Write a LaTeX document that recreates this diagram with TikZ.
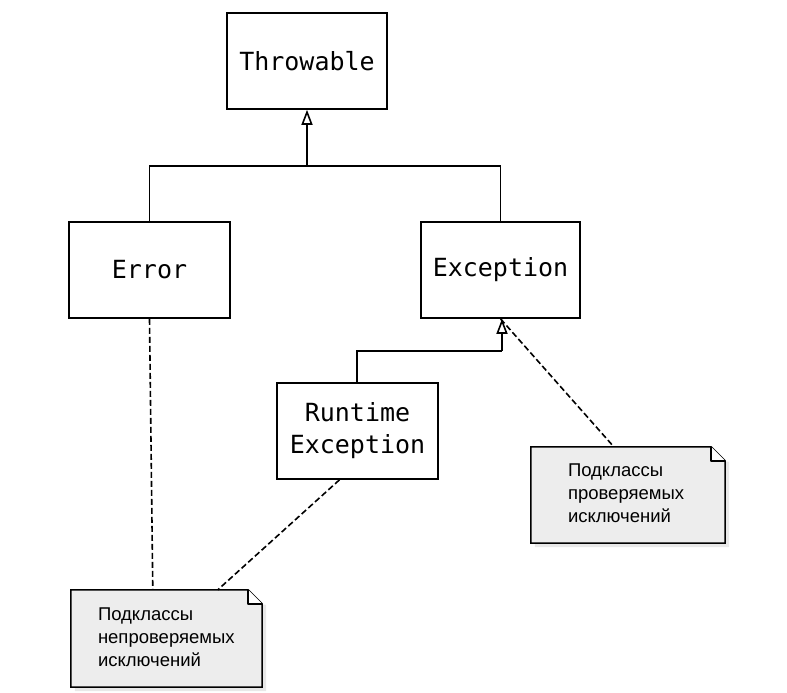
\documentclass[tikz,border=0pt]{standalone}
\usepackage{fontspec}
\setmainfont{Liberation Sans}
\newfontfamily\monof{DejaVu Sans Mono}
\usetikzlibrary{arrows.meta,calc}
\begin{document}
\begin{tikzpicture}[x=1pt,y=-1pt,
  cls/.style={draw=black,line width=1.6pt,minimum width=160pt,minimum height=96pt,inner sep=0pt,font=\monof\fontsize{25}{32}\selectfont,align=center},
  notebox/.style={minimum height=96pt,inner sep=0pt},
  notetext/.style={anchor=north west,inner sep=0pt,align=left,font=\fontsize{18.5}{23}\selectfont},
  genlink/.style={draw=black,line width=1.6pt,-{Triangle[open,length=15pt,width=11pt]}},
  solidlink/.style={draw=black,line width=1.6pt},
  dashlink/.style={draw=black,line width=1.6pt,dash pattern=on 6pt off 3pt},
  noteline/.style={draw=black,line width=1.5pt,fill=black!7}
]
\useasboundingbox (0,0) rectangle (787,693);

\node[cls] (thr) at (307,61) {Throwable};
\node[cls,minimum width=161pt] (err) at (149.5,270) {Error};
\node[cls,minimum width=159pt] (exc) at (500.5,270) {Exception};
\node[cls,minimum width=161pt] (rte) at (357.5,431) {Runtime\\Exception};

\node[notebox,minimum width=194pt] (nr) at (628,495) {};
\node[notebox,minimum width=191pt,minimum height=97pt] (nl) at (166.5,638.5) {};

% notes with folded corner and shadow
\foreach \n in {nr,nl}{
  \fill[black!15,opacity=0.6] ($(\n.north west)+(4,4)$) -- ($(\n.north east)+(4,15)$) -- ($(\n.south east)+(4,4)$) -- ($(\n.south west)+(4,4)$) -- cycle;
  \path[noteline] (\n.north west) -- ($(\n.north east)+(-14,0)$) -- ($(\n.north east)+(0,14)$) -- (\n.south east) -- (\n.south west) -- cycle;
  \draw[line width=1.5pt,fill=white,line join=round] ($(\n.north east)+(-14,0)$) -- ($(\n.north east)+(-14,14)$) -- ($(\n.north east)+(0,14)$);
}
\node[notetext] (tr) at ($(nr.north west)+(37,17)$) {Подклассы\\проверяемых\\исключений};
\node[notetext] (tl) at ($(nl.north west)+(27,18)$) {Подклассы\\непроверяемых\\исключений};

% generalizations
\coordinate (j1) at (307,166);
\draw[solidlink] (err.north) |- (j1) -| (exc.north);
\draw[genlink] (j1) -- (thr.south);
\coordinate (j2) at (502,351);
\draw[solidlink] (rte.north -| 357,0) |- (j2);
\draw[genlink] (j2) -- (exc.south -| j2);

% dashed note links
\draw[dashlink] (err.south) -- ($(nl.north west)+(82,0)$);
\draw[dashlink] ($(rte.south)+(-18,0)$) -- ($(nl.north west)+(147,0)$);
\draw[dashlink] (exc.south) -- ($(nr.north west)+(83,0)$);
\end{tikzpicture}
\end{document}
